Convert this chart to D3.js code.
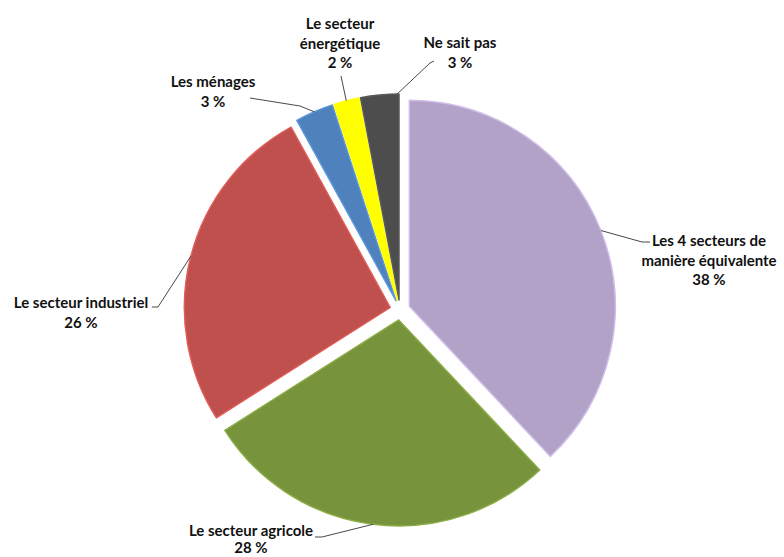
<!DOCTYPE html>
<html>
<head>
<meta charset="utf-8">
<script src="https://cdn.jsdelivr.net/npm/d3@7"></script>
<style>
  html, body { margin: 0; padding: 0; background: #ffffff; }
  svg { display: block; }
  .lbl { font-family: "Lato", "Open Sans", sans-serif; font-weight: 700; font-size: 15px; fill: #111; }
</style>
</head>
<body>
<svg id="chart" width="784" height="557"></svg>
<script>
// Répartition des réponses (en %)
const categories = [
  "Les 4 secteurs de manière équivalente",
  "Le secteur agricole",
  "Le secteur industriel",
  "Les ménages",
  "Le secteur énergétique",
  "Ne sait pas"
];
const values = [38, 28, 26, 3, 2, 3];
const labelLines = [
  ["Les 4 secteurs de", "manière équivalente"],
  ["Le secteur agricole"],
  ["Le secteur industriel"],
  ["Les ménages"],
  ["Le secteur", "énergétique"],
  ["Ne sait pas"]
];
const colors = ["#B2A2C7", "#77933C", "#C0504D", "#4F81BD", "#FFFF00", "#4D4D4D"];

// Placement des étiquettes : centre du texte, ligne de base de la 1re ligne,
// interligne, position du point d'attache sur l'arc (0..1 dans la part) et coude de la ligne de rappel
const labelLayout = [
  { x: 709, y: 246, lh: 19.5, t: 0.5,  pts: [[642, 242], [650, 242]] },
  { x: 251, y: 536, lh: 17,   t: 0.5,  pts: [[322, 537], [315, 537]] },
  { x: 81,  y: 308, lh: 19.5, t: 0.5,  pts: [[158, 307], [152, 307]] },
  { x: 213, y: 87,  lh: 19.5, t: 0.5,  pts: [[300, 106], [250, 98]] },
  { x: 340, y: 29,  lh: 19.5, t: 0.5,  pts: [[341, 76]] },
  { x: 460, y: 48,  lh: 19.5, t: 0.95, pts: [[430, 63], [434, 61]] }
];

const svg = d3.select("#chart");
const cx = 400, cy = 310, radius = 206, explode = 10;

const pie = d3.pie().sort(null).value(d => d).startAngle(0).endAngle(2 * Math.PI);
const arcs = pie(values);
const arc = d3.arc().innerRadius(0).outerRadius(radius);

const g = svg.append("g").attr("transform", `translate(${cx},${cy})`);

function offsetOf(a) {
  const mid = (a.startAngle + a.endAngle) / 2;
  return [explode * Math.sin(mid), -explode * Math.cos(mid)];
}

g.selectAll("path.slice")
  .data(arcs)
  .join("path")
  .attr("class", "slice")
  .attr("transform", d => { const o = offsetOf(d); return `translate(${o[0]},${o[1]})`; })
  .attr("d", arc)
  .attr("fill", (d, i) => colors[i])
  .attr("stroke", (d, i) => d3.color(colors[i]).brighter(0.45))
  .attr("stroke-width", 1.4)
  .attr("stroke-linejoin", "round");

// Lignes de rappel
const line = d3.line();
arcs.forEach((d, i) => {
  const L = labelLayout[i];
  const o = offsetOf(d);
  const ang = d.startAngle + (d.endAngle - d.startAngle) * L.t;
  const start = [cx + o[0] + radius * Math.sin(ang), cy + o[1] - radius * Math.cos(ang)];
  svg.append("path")
    .attr("d", line([start, ...L.pts]))
    .attr("fill", "none")
    .attr("stroke", "#333")
    .attr("stroke-width", 0.9);
});

// Étiquettes : nom + valeur
arcs.forEach((d, i) => {
  const L = labelLayout[i];
  const lines = [...labelLines[i], `${values[i]} %`];
  const t = svg.append("text")
    .attr("class", "lbl")
    .attr("text-anchor", "middle")
    .attr("x", L.x)
    .attr("y", L.y);
  lines.forEach((s, k) => {
    t.append("tspan").attr("x", L.x).attr("dy", k === 0 ? 0 : L.lh).text(s);
  });
});
</script>
</body>
</html>
